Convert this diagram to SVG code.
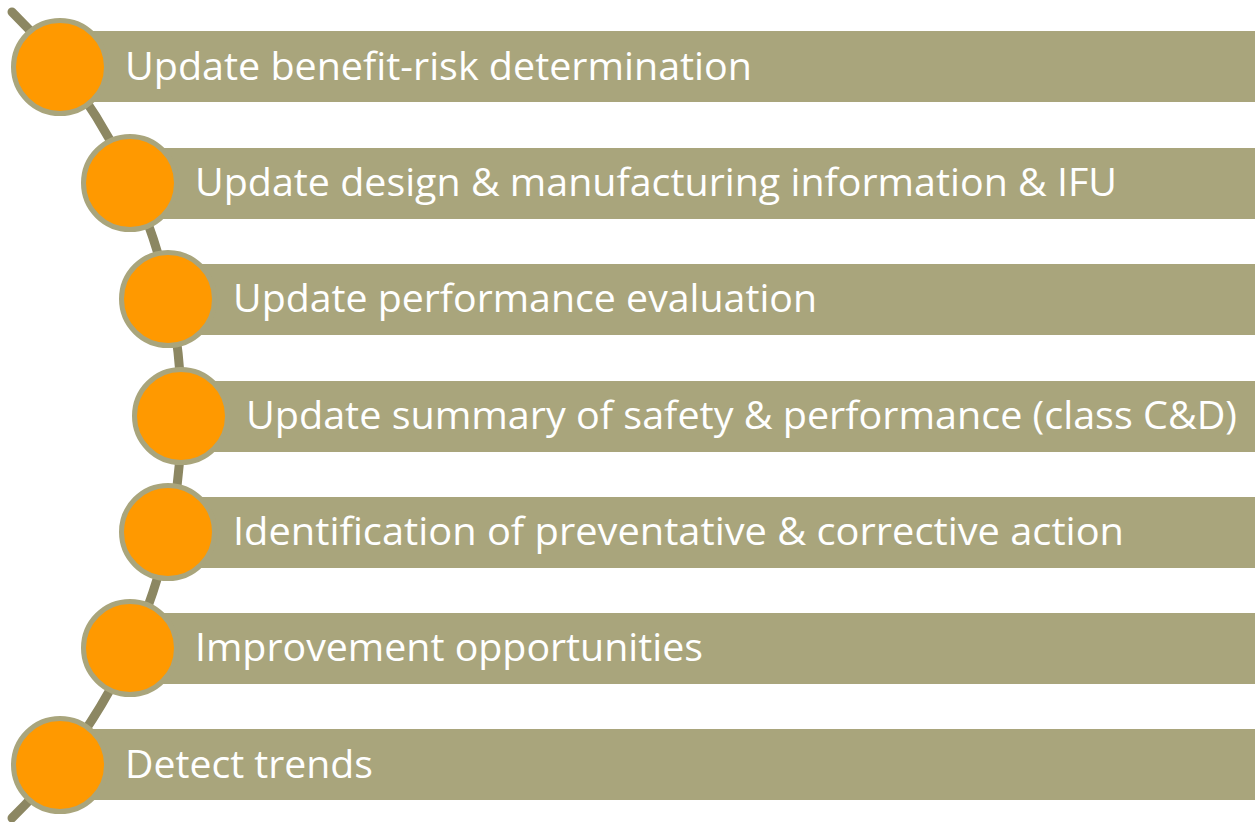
<svg xmlns="http://www.w3.org/2000/svg" width="1255" height="822" viewBox="0 0 1255 822">
<style>
.bar{fill:#A9A57C}
.dot{fill:#FF9900;stroke:#A9A57C;stroke-width:5}
.lbl{fill:#FFFFFF;font-family:"Open Sans","Liberation Sans",sans-serif;font-size:38px}
.spine{fill:none;stroke:#8C8762;stroke-width:9;stroke-linecap:round}
</style>
<rect width="1255" height="822" fill="#FFFFFF"/>
<g id="connectors">
<path class="spine" d="M 12 12 A 564 564 0 0 1 12 818"/>
</g>
<g id="n1"><rect class="bar" x="60" y="31" width="1195" height="71"/><circle class="dot" cx="60" cy="67" r="46.5"/><text class="lbl" x="125" y="80" textLength="627" lengthAdjust="spacingAndGlyphs">Update benefit-risk determination</text></g>
<g id="n2"><rect class="bar" x="130" y="148" width="1125" height="71"/><circle class="dot" cx="130" cy="183" r="46.5"/><text class="lbl" x="195" y="196" textLength="922" lengthAdjust="spacingAndGlyphs">Update design &amp; manufacturing information &amp; IFU</text></g>
<g id="n3"><rect class="bar" x="168" y="264" width="1087" height="71"/><circle class="dot" cx="168" cy="299" r="46.5"/><text class="lbl" x="233" y="312" textLength="584" lengthAdjust="spacingAndGlyphs">Update performance evaluation</text></g>
<g id="n4"><rect class="bar" x="181" y="381" width="1074" height="71"/><circle class="dot" cx="181" cy="416" r="46.5"/><text class="lbl" x="246" y="429" textLength="991" lengthAdjust="spacingAndGlyphs">Update summary of safety &amp; performance (class C&amp;D)</text></g>
<g id="n5"><rect class="bar" x="168" y="497" width="1087" height="71"/><circle class="dot" cx="168" cy="532" r="46.5"/><text class="lbl" x="233" y="545" textLength="891" lengthAdjust="spacingAndGlyphs">Identification of preventative &amp; corrective action</text></g>
<g id="n6"><rect class="bar" x="130" y="613" width="1125" height="71"/><circle class="dot" cx="130" cy="648" r="46.5"/><text class="lbl" x="195" y="661" textLength="508" lengthAdjust="spacingAndGlyphs">Improvement opportunities</text></g>
<g id="n7"><rect class="bar" x="60" y="729" width="1195" height="71"/><circle class="dot" cx="60" cy="765" r="46.5"/><text class="lbl" x="125" y="778" textLength="248" lengthAdjust="spacingAndGlyphs">Detect trends</text></g>
</svg>
